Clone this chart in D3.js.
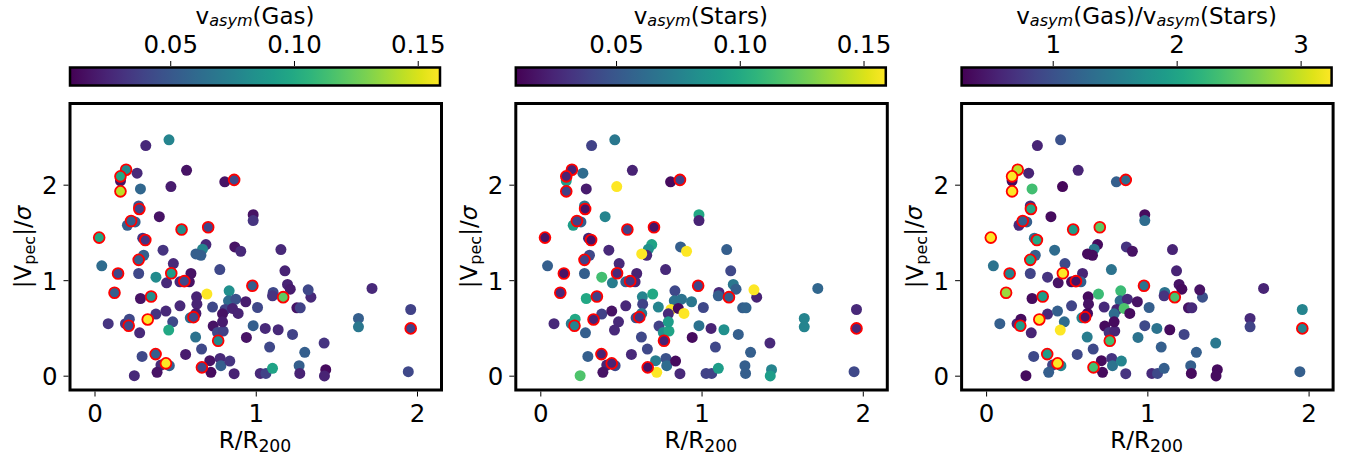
<!DOCTYPE html>
<html>
<head>
<meta charset="utf-8">
<script src="https://cdn.jsdelivr.net/npm/d3@7"></script>
<style>
  body { margin: 0; background: #fff; }
  text { font-family: "DejaVu Sans", sans-serif; fill: #000; }
</style>
</head>
<body>
<svg id="chart" width="1350" height="466"></svg>
<script>
// R/R200 and |Vpec|/sigma of each galaxy (same positions in all three panels)
const rr = [
  0.318, 0.462, 0.571, 0.196, 0.161, 0.161, 0.264, 0.161, 0.285, 0.474,
  0.808, 0.866, 0.274, 0.278, 0.402, 0.204, 0.252, 0.227, 0.540, 0.705,
  0.029, 0.299, 0.315, 0.984, 0.984, 0.691, 0.670, 0.660, 0.629, 0.870,
  0.907, 0.425, 0.305, 0.274, 0.045, 0.146, 0.274, 0.381, 0.489, 0.476,
  0.447, 0.598, 0.557, 0.530, 0.588, 0.777, 0.979, 0.124, 0.285, 0.351,
  0.633, 0.635, 0.697, 0.835, 0.831, 0.876, 0.938, 1.011, 0.530, 0.732,
  0.810, 0.856, 0.891, 0.794, 0.381, 0.443, 0.330, 0.485, 0.614, 0.594,
  0.629, 0.085, 0.192, 0.216, 0.212, 0.280, 0.460, 0.736, 0.763, 0.798,
  0.794, 0.984, 0.942, 0.627, 0.767, 0.664, 0.295, 0.379, 0.443, 0.464,
  0.412, 0.388, 0.565, 0.247, 0.666, 0.715, 0.722, 0.779, 0.784, 0.839,
  0.866, 1.028, 1.063, 1.156, 1.181, 1.197, 1.214, 1.108, 1.104, 1.170,
  1.342, 1.325, 1.721, 1.255, 1.276, 1.961, 1.637, 1.637, 1.961, 1.059,
  1.139, 1.228, 1.424, 1.086, 1.304, 1.104, 1.269, 1.273, 1.434, 1.426,
  1.946
];
const vpec = [
  2.410, 2.470, 2.150, 2.157, 2.087, 2.040, 2.120, 1.930, 1.955, 1.980,
  2.030, 2.050, 1.777, 1.746, 1.665, 1.575, 1.610, 1.620, 1.530, 1.554,
  1.446, 1.440, 1.420, 1.686, 1.624, 1.373, 1.324, 1.260, 1.275, 1.348,
  1.303, 1.314, 1.261, 1.213, 1.150, 1.070, 1.070, 1.031, 1.174, 1.073,
  0.972, 1.070, 0.990, 0.983, 0.983, 1.111, 0.941, 0.868, 0.808, 0.829,
  0.826, 0.749, 0.854, 0.889, 0.784, 0.801, 0.774, 0.714, 0.732, 0.718,
  0.693, 0.704, 0.652, 0.648, 0.645, 0.676, 0.589, 0.564, 0.613, 0.606,
  0.652, 0.544, 0.544, 0.592, 0.523, 0.449, 0.477, 0.519, 0.453, 0.467,
  0.564, 0.523, 0.401, 0.404, 0.366, 0.279, 0.202, 0.226, 0.129, 0.105,
  0.111, 0.035, 0.223, 0.000, 0.087, 0.157, 0.035, 0.181, 0.105, 0.153,
  0.021, 0.024, 0.024, 1.320, 1.098, 0.955, 0.906, 0.871, 0.836, 0.822,
  0.822, 0.899, 0.913, 0.711, 0.711, 0.693, 0.599, 0.512, 0.495, 0.495,
  0.481, 0.432, 0.341, 0.300, 0.244, 0.077, 0.105, 0.024, 0.063, -0.003,
  0.042
];
const vGas = [
  0.027, 0.077, 0.017, 0.081, 0.099, 0.017, 0.027, 0.144, 0.059, 0.021,
  0.017, 0.042, 0.047, 0.039, 0.017, 0.054, 0.054, 0.054, 0.084, 0.042,
  0.099, 0.032, 0.032, 0.017, 0.032, 0.027, 0.077, 0.054, 0.054, 0.017,
  0.027, 0.032, 0.054, 0.054, 0.062, 0.042, 0.042, 0.081, 0.027, 0.092,
  0.027, 0.017, 0.042, 0.027, 0.017, 0.042, 0.054, 0.054, 0.017, 0.084,
  0.024, 0.024, 0.159, 0.084, 0.062, 0.047, 0.021, 0.042, 0.027, 0.042,
  0.039, 0.024, 0.024, 0.017, 0.032, 0.027, 0.159, 0.042, 0.042, 0.062,
  0.021, 0.032, 0.032, 0.042, 0.042, 0.027, 0.099, 0.017, 0.042, 0.039,
  0.021, 0.054, 0.017, 0.066, 0.081, 0.042, 0.042, 0.054, 0.159, 0.054,
  0.027, 0.017, 0.021, 0.027, 0.042, 0.017, 0.014, 0.027, 0.054, 0.032,
  0.024, 0.027, 0.039, 0.027, 0.024, 0.024, 0.021, 0.042, 0.032, 0.122,
  0.027, 0.042, 0.027, 0.017, 0.039, 0.039, 0.054, 0.069, 0.039, 0.027,
  0.027, 0.039, 0.032, 0.042, 0.054, 0.096, 0.054, 0.024, 0.014, 0.024,
  0.042
];
const vStars = [
  0.039, 0.069, 0.024, 0.024, 0.024, 0.092, 0.062, 0.039, 0.021, 0.159,
  0.014, 0.039, 0.069, 0.017, 0.077, 0.092, 0.054, 0.039, 0.039, 0.017,
  0.017, 0.024, 0.017, 0.099, 0.024, 0.096, 0.084, 0.027, 0.159, 0.054,
  0.159, 0.027, 0.042, 0.039, 0.054, 0.017, 0.054, 0.114, 0.027, 0.027,
  0.072, 0.024, 0.032, 0.054, 0.027, 0.027, 0.042, 0.027, 0.099, 0.039,
  0.077, 0.039, 0.099, 0.042, 0.066, 0.066, 0.069, 0.042, 0.027, 0.077,
  0.159, 0.014, 0.159, 0.027, 0.039, 0.017, 0.024, 0.027, 0.032, 0.047,
  0.069, 0.027, 0.072, 0.099, 0.077, 0.054, 0.027, 0.039, 0.084, 0.096,
  0.092, 0.066, 0.014, 0.042, 0.024, 0.042, 0.054, 0.024, 0.024, 0.042,
  0.024, 0.017, 0.027, 0.117, 0.017, 0.072, 0.159, 0.047, 0.062, 0.014,
  0.027, 0.039, 0.039, 0.054, 0.042, 0.069, 0.054, 0.027, 0.054, 0.054,
  0.024, 0.159, 0.059, 0.054, 0.057, 0.027, 0.077, 0.077, 0.027, 0.024,
  0.084, 0.054, 0.027, 0.042, 0.054, 0.092, 0.054, 0.054, 0.077, 0.092,
  0.042
];
const vRatio = [
  0.56, 1.01, 0.56, 2.95, 3.25, 0.35, 0.56, 3.25, 2.35, 0.32,
  1.16, 1.31, 0.62, 2.06, 0.35, 0.62, 1.16, 1.16, 1.91, 2.50,
  3.25, 1.31, 2.06, 0.35, 1.31, 0.35, 1.46, 0.35, 0.35, 0.71,
  0.41, 1.31, 1.16, 2.06, 1.40, 1.61, 0.86, 0.71, 0.92, 3.25,
  0.41, 0.56, 0.41, 0.35, 1.16, 1.40, 1.40, 2.80, 0.35, 1.91,
  0.35, 0.41, 2.30, 2.30, 1.31, 0.62, 0.41, 1.16, 0.86, 0.62,
  0.56, 2.41, 0.35, 1.31, 0.62, 1.16, 3.25, 1.31, 0.41, 1.61,
  0.35, 1.16, 0.62, 0.35, 1.91, 0.56, 3.25, 0.35, 0.71, 0.56,
  0.35, 0.92, 1.40, 1.52, 2.35, 0.92, 0.92, 1.91, 3.25, 1.61,
  0.86, 1.16, 0.92, 0.35, 2.35, 0.35, 0.35, 0.71, 1.40, 1.61,
  0.71, 0.62, 0.92, 0.56, 0.56, 0.41, 0.35, 1.40, 0.71, 2.41,
  1.01, 0.41, 0.56, 0.41, 0.62, 1.61, 0.62, 0.86, 1.61, 1.40,
  0.35, 0.86, 1.46, 1.16, 1.16, 1.16, 1.16, 0.35, 0.35, 0.35,
  1.16
];
// galaxies drawn with a red edge
const flagged = [
  0, 0, 0, 1, 1, 0, 0, 1, 0, 0,
  0, 1, 0, 1, 0, 0, 0, 1, 1, 1,
  1, 0, 1, 0, 0, 0, 0, 0, 0, 0,
  0, 0, 0, 1, 0, 1, 0, 0, 0, 1,
  0, 0, 1, 0, 0, 0, 1, 1, 0, 1,
  0, 0, 0, 0, 0, 0, 0, 0, 0, 0,
  0, 0, 0, 0, 0, 0, 1, 0, 1, 0,
  0, 0, 0, 0, 1, 0, 0, 0, 0, 0,
  0, 0, 0, 0, 1, 0, 0, 1, 1, 0,
  0, 0, 0, 0, 1, 0, 0, 0, 0, 0,
  0, 0, 0, 0, 0, 0, 0, 0, 0, 1,
  0, 0, 0, 0, 0, 0, 0, 0, 1, 0,
  0, 0, 0, 0, 0, 0, 0, 0, 0, 0,
  0
];

const xTicks = [0, 1, 2];
const yTicks = [0, 1, 2];

const panels = [
  { values: vGas, domain: [0.0095, 0.159], ticks: [0.05, 0.10, 0.15], fmt: d3.format(".2f"),
    label: [["v", ""], ["asym", "sub"], ["(Gas)", "up"]] },
  { values: vStars, domain: [0.0095, 0.159], ticks: [0.05, 0.10, 0.15], fmt: d3.format(".2f"),
    label: [["v", ""], ["asym", "sub"], ["(Stars)", "up"]] },
  { values: vRatio, domain: [0.265, 3.25], ticks: [1, 2, 3], fmt: d3.format("d"),
    label: [["v", ""], ["asym", "sub"], ["(Gas)/v", "up"], ["asym", "sub"], ["(Stars)", "up"]] }
];

const svg = d3.select("#chart");
const defs = svg.append("defs");
const step = 445.8;
const tickFont = 24.5, labelFont = 23;

const x = d3.scaleLinear().domain([-0.152, 2.152]).range([70, 441.5]);
const y = d3.scaleLinear().domain([-0.15, 2.85]).range([390, 103.5]);

// unflagged first, red-edged ones on top
const order = d3.range(rr.length).sort((a, b) => flagged[a] - flagged[b]);

function addLabel(t, parts) {
  parts.forEach(([s, kind]) => {
    const ts = t.append("tspan").text(s);
    if (kind === "sub") ts.attr("font-size", "0.7em").attr("font-style", "italic").attr("dy", "0.18em");
    if (kind === "up") ts.attr("dy", "-0.126em");
  });
}

panels.forEach((p, k) => {
  const g = svg.append("g").attr("transform", `translate(${k * step},0)`);
  const color = d3.scaleSequential(d3.interpolateViridis).domain(p.domain).clamp(true);

  // colour bar
  const c = d3.scaleLinear().domain(p.domain).range([70, 440]);
  const grad = defs.append("linearGradient").attr("id", "grad" + k);
  d3.range(0, 1.0001, 0.05).forEach(t => {
    grad.append("stop").attr("offset", t).attr("stop-color", d3.interpolateViridis(t));
  });
  g.append("rect").attr("x", 70).attr("y", 67.5).attr("width", 370).attr("height", 18)
    .attr("fill", `url(#grad${k})`).attr("stroke", "#000").attr("stroke-width", 2.5);
  const cax = g.append("g").attr("transform", "translate(0,66)")
    .call(d3.axisTop(c).tickValues(p.ticks).tickFormat(p.fmt).tickSize(5));
  cax.select(".domain").remove();
  cax.selectAll("line").attr("stroke", "#000").attr("stroke-width", 1);
  cax.selectAll("text").attr("y", -13.5).attr("dy", null).attr("font-size", tickFont)
    .attr("font-family", "DejaVu Sans");
  addLabel(g.append("text").attr("x", 255).attr("y", 23.5).attr("text-anchor", "middle")
    .attr("font-size", labelFont), p.label);

  // points
  g.append("g").selectAll("circle").data(order).join("circle")
    .attr("cx", i => x(rr[i]))
    .attr("cy", i => y(vpec[i]))
    .attr("r", i => flagged[i] ? 5.4 : 5.5)
    .attr("fill", i => color(p.values[i]))
    .attr("stroke", i => flagged[i] ? "#ff0000" : "none")
    .attr("stroke-width", 1.8);

  // frame
  g.append("rect").attr("x", 70).attr("y", 103.5).attr("width", 371.5).attr("height", 286.5)
    .attr("fill", "none").attr("stroke", "#000").attr("stroke-width", 3);

  const xa = g.append("g").attr("transform", "translate(0,391.5)")
    .call(d3.axisBottom(x).tickValues(xTicks).tickFormat(d3.format("d")).tickSize(5));
  xa.select(".domain").remove();
  xa.selectAll("line").attr("stroke", "#000");
  xa.selectAll("text").attr("y", 30.5).attr("dy", null).attr("font-size", tickFont)
    .attr("font-family", "DejaVu Sans");

  const ya = g.append("g").attr("transform", "translate(68.5,0)")
    .call(d3.axisLeft(y).tickValues(yTicks).tickFormat(d3.format("d")).tickSize(5));
  ya.select(".domain").remove();
  ya.selectAll("line").attr("stroke", "#000");
  ya.selectAll("text").attr("x", -11).attr("dy", "0.36em").attr("font-size", tickFont)
    .attr("font-family", "DejaVu Sans");

  // axis labels
  const xl = g.append("text").attr("x", 255).attr("y", 448).attr("text-anchor", "middle")
    .attr("font-size", labelFont);
  xl.append("tspan").text("R/R");
  xl.append("tspan").text("200").attr("font-size", "0.75em").attr("dy", "0.25em");

  const yl = g.append("text").attr("transform", "translate(31,247) rotate(-90)")
    .attr("text-anchor", "middle").attr("font-size", labelFont);
  yl.append("tspan").text("|V");
  yl.append("tspan").text("pec").attr("font-size", "0.7em").attr("dy", "0.25em");
  yl.append("tspan").text("|/").attr("dy", "-0.18em");
  yl.append("tspan").text("σ").attr("font-style", "italic");
});
</script>
</body>
</html>
